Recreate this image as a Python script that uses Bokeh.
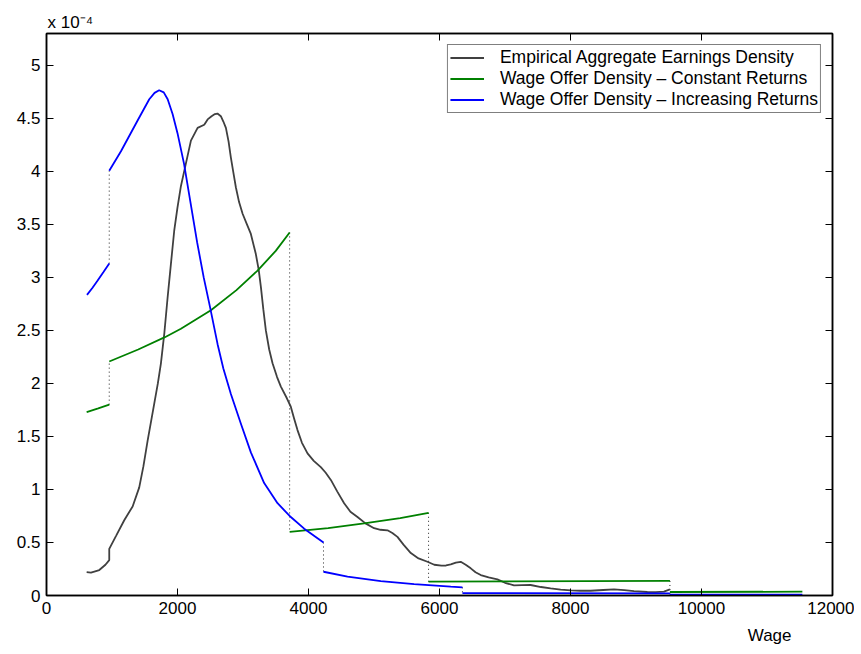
from bokeh.plotting import figure
from bokeh.models import (Range1d, FixedTicker, LinearAxis, Title,
                          CustomJSTickFormatter, ColumnDataSource)
from bokeh.embed import file_html
from bokeh.resources import INLINE

# ---------------- data (densities in units of 1e-4) ----------------
emp_x = [613, 679, 806, 900, 958, 958, 1060, 1187, 1315, 1416, 1480, 1544, 1645,
         1700, 1747, 1800, 1849, 1900, 1950, 2000, 2052, 2116, 2205, 2307, 2408,
         2460, 2520, 2571, 2610, 2662, 2700, 2739, 2780, 2815, 2850, 2891, 2940,
         2994, 3060, 3120, 3196, 3240, 3273, 3310, 3349, 3400, 3451, 3520, 3578,
         3670, 3730, 3780, 3832, 3900, 3985, 4080, 4188, 4260, 4341, 4440, 4544,
         4640, 4748, 4870, 5001, 5100, 5206, 5280, 5358, 5450, 5562, 5680, 5816,
         5920, 6030, 6100, 6172, 6250, 6324, 6400, 6477, 6550, 6630, 6750, 6884,
         7000, 7138, 7260, 7392, 7550, 7697, 7850, 8003, 8150, 8308, 8500, 8664,
         8820, 8969, 9173, 9300, 9427, 9518]
emp_y = [0.22, 0.215, 0.24, 0.29, 0.334, 0.44, 0.56, 0.71, 0.84, 1.02, 1.22, 1.46,
         1.81, 2.00, 2.19, 2.48, 2.81, 3.13, 3.44, 3.66, 3.86, 4.04, 4.29, 4.41,
         4.44, 4.49, 4.52, 4.54, 4.545, 4.52, 4.47, 4.41, 4.28, 4.13, 4.00, 3.85,
         3.71, 3.60, 3.50, 3.41, 3.22, 3.07, 2.91, 2.70, 2.50, 2.32, 2.19, 2.06,
         1.97, 1.86, 1.78, 1.67, 1.56, 1.44, 1.34, 1.27, 1.21, 1.16, 1.09, 0.98,
         0.87, 0.79, 0.74, 0.68, 0.635, 0.62, 0.615, 0.59, 0.553, 0.48, 0.40,
         0.35, 0.318, 0.29, 0.281, 0.283, 0.293, 0.31, 0.318, 0.29, 0.256, 0.22,
         0.193, 0.17, 0.152, 0.12, 0.095, 0.097, 0.099, 0.08, 0.068, 0.056, 0.049,
         0.045, 0.045, 0.052, 0.058, 0.05, 0.042, 0.033, 0.032, 0.036, 0.058]

const_x = [
    [613, 790, 958],
    [958, 1400, 1808, 2052, 2510, 2900, 3222, 3500, 3712],
    [3712, 4300, 4849, 5400, 5833],
    [5833, 9518],
    [9518, 11540],
]
const_y = [
    [1.73, 1.765, 1.80],
    [2.207, 2.32, 2.436, 2.515, 2.69, 2.88, 3.064, 3.25, 3.424],
    [0.60, 0.635, 0.68, 0.73, 0.78],
    [0.13, 0.137],
    [0.033, 0.036],
]

incr_x = [
    [618, 700, 781, 870, 958],
    [958, 1137, 1391, 1569, 1650, 1720, 1790, 1850, 1925, 2000, 2100, 2200,
     2300, 2400, 2500, 2612, 2700, 2815, 2968, 3120, 3323, 3527, 3730, 3934,
     4229],
    [4229, 4596, 5104, 5612, 6172, 6350],
    [6350, 9518],
    [9518, 11540],
]
incr_y = [
    [2.835, 2.90, 2.97, 3.05, 3.13],
    [4.005, 4.19, 4.48, 4.68, 4.74, 4.765, 4.745, 4.68, 4.54, 4.36, 4.07, 3.70,
     3.33, 3.00, 2.71, 2.37, 2.14, 1.90, 1.62, 1.35, 1.06, 0.87, 0.74, 0.63,
     0.50],
    [0.224, 0.177, 0.136, 0.108, 0.083, 0.077],
    [0.022, 0.020],
    [0.008, 0.008],
]

x_ticks = [0, 2000, 4000, 6000, 8000, 10000, 12000]
y_ticks = [0, 0.5, 1, 1.5, 2, 2.5, 3, 3.5, 4, 4.5, 5]

labels = ["Empirical Aggregate Earnings Density",
          "Wage Offer Density \u2013 Constant Returns",
          "Wage Offer Density \u2013 Increasing Returns"]
colors = ["#404040", "#008000", "#0000ff"]

FONT = "Liberation Sans"
FS = "17px"

# ---------------- figure ----------------
p = figure(frame_width=786, frame_height=562,
           min_border_left=46, min_border_top=33, min_border_right=22,
           min_border_bottom=51,
           x_range=Range1d(0, 12000), y_range=Range1d(0, 5.3),
           output_backend="svg", toolbar_location=None)
p.xgrid.visible = False
p.ygrid.visible = False
p.outline_line_color = "black"
p.outline_line_width = 1.5
p.background_fill_color = "white"
p.border_fill_color = "white"

yfmt = CustomJSTickFormatter(code="return String(Number(tick.toFixed(1)));")
blank = CustomJSTickFormatter(code="return '';")

for ax in (p.xaxis[0], p.yaxis[0]):
    ax.major_tick_in = 7
    ax.major_tick_out = 0
    ax.minor_tick_line_color = None
    ax.axis_line_color = "black"
    ax.axis_line_width = 1.5
    ax.major_tick_line_color = "black"
    ax.major_tick_line_width = 1
    ax.major_label_text_font = FONT
    ax.major_label_text_font_size = FS
    ax.major_label_text_color = "black"
    ax.major_label_standoff = 6
p.xaxis[0].ticker = FixedTicker(ticks=x_ticks)
p.yaxis[0].ticker = FixedTicker(ticks=y_ticks)
p.yaxis[0].formatter = yfmt

top = LinearAxis(ticker=FixedTicker(ticks=x_ticks), formatter=blank)
right = LinearAxis(ticker=FixedTicker(ticks=y_ticks), formatter=blank)
for ax in (top, right):
    ax.major_tick_in = 7
    ax.major_tick_out = 0
    ax.minor_tick_line_color = None
    ax.axis_line_color = "black"
    ax.axis_line_width = 1.5
    ax.major_tick_line_color = "black"
    ax.major_label_standoff = 0
    ax.major_label_text_font_size = "1px"
p.add_layout(top, "above")
p.add_layout(right, "right")

# axis scale note and x label as side-panel titles
p.add_layout(Title(text="x 10\u207b\u2074", align="left", offset=1, standoff=3,
                   text_font=FONT, text_font_size=FS, text_font_style="normal",
                   text_color="black"), "above")
p.add_layout(Title(text="Wage", align="right", offset=41, standoff=15,
                   text_font=FONT, text_font_size=FS, text_font_style="normal",
                   text_color="black"), "below")

# dotted connectors at the jumps of the piecewise densities
cx, cy0, cy1 = [], [], []
for sx, sy in ((const_x, const_y), (incr_x, incr_y)):
    for i in range(len(sx) - 1):
        cx.append(sx[i][-1])
        cy0.append(sy[i][-1])
        cy1.append(sy[i + 1][0])
p.segment(x0="x", y0="y0", x1="x", y1="y1",
          source=ColumnDataSource(dict(x=cx, y0=cy0, y1=cy1)),
          line_color="#222222", line_width=1, line_dash="1 3")

LW = 1.8
p.line(emp_x, emp_y, line_color=colors[0], line_width=LW, legend_label=labels[0])
p.multi_line(xs=const_x, ys=const_y, line_color=colors[1], line_width=LW,
             legend_label=labels[1])
p.multi_line(xs=incr_x, ys=incr_y, line_color=colors[2], line_width=LW,
             legend_label=labels[2])

lg = p.legend[0]
lg.location = "top_right"
lg.margin = 11
lg.padding = 2
lg.spacing = 0
lg.label_height = 19
lg.glyph_height = 19
lg.glyph_width = 34
lg.label_standoff = 16
lg.label_text_font = FONT
lg.label_text_font_size = "17.5px"
lg.label_text_color = "black"
lg.border_line_color = "black"
lg.border_line_width = 1
lg.background_fill_color = "white"
lg.background_fill_alpha = 1

open("out.html", "w").write(file_html(p, INLINE))
